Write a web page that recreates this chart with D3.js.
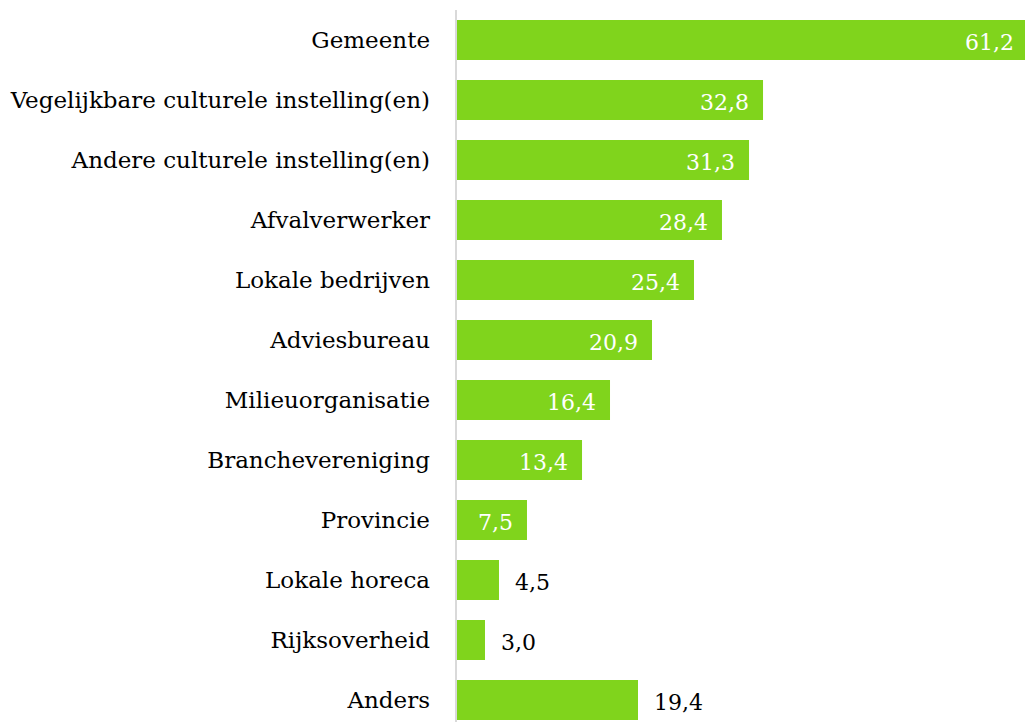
<!DOCTYPE html>
<html>
<head>
<meta charset="utf-8">
<script src="https://cdn.jsdelivr.net/npm/d3@7"></script>
<style>
  html, body { margin: 0; padding: 0; background: #fff; overflow: hidden; }
  svg { display: block; }
  text { font-family: "DejaVu Serif", "Liberation Serif", serif; }
</style>
</head>
<body>
<div id="chart"></div>
<script>
// categories top to bottom
const categories = [
    "Gemeente",
    "Vegelijkbare culturele instelling(en)",
    "Andere culturele instelling(en)",
    "Afvalverwerker",
    "Lokale bedrijven",
    "Adviesbureau",
    "Milieuorganisatie",
    "Branchevereniging",
    "Provincie",
    "Lokale horeca",
    "Rijksoverheid",
    "Anders"
];
const values = [61.2, 32.8, 31.3, 28.4, 25.4, 20.9, 16.4, 13.4, 7.5, 4.5, 3.0, 19.4];
// where the value label sits
const labelInside = [true, true, true, true, true, true, true, true, true, false, false, false];

const width = 1025, height = 722;
const barColor = "#80d41c";

const svg = d3.select("#chart").append("svg")
    .attr("width", width).attr("height", height);

const x = d3.scaleLinear().domain([0, 61.2]).range([457, 1028]);
const y = d3.scaleBand().domain(categories).range([10, 730]).paddingInner(1 / 3).paddingOuter(1 / 6);

// bars
svg.selectAll("rect.bar").data(categories).enter().append("rect")
    .attr("class", "bar")
    .attr("x", x(0))
    .attr("y", d => y(d))
    .attr("width", (d, i) => x(values[i]) - x(0))
    .attr("height", y.bandwidth())
    .attr("fill", barColor);

// axis line
svg.append("line")
    .attr("x1", 456).attr("x2", 456)
    .attr("y1", 10).attr("y2", height)
    .attr("stroke", "#d9d9d9").attr("stroke-width", 2);

// category labels
svg.selectAll("text.cat").data(categories).enter().append("text")
    .attr("class", "cat")
    .attr("x", 430)
    .attr("y", d => y(d) + y.bandwidth() / 2)
    .attr("dy", "0.35em")
    .attr("text-anchor", "end")
    .attr("font-size", 23)
    .attr("fill", "#000")
    .text(d => d);

// value labels
const fmt = v => v.toFixed(1).replace(".", ",");
svg.selectAll("text.val").data(categories).enter().append("text")
    .attr("class", "val")
    .attr("x", (d, i) => labelInside[i] ? x(values[i]) - 14 : x(values[i]) + 16)
    .attr("y", d => y(d) + y.bandwidth() / 2 + 2)
    .attr("dy", "0.35em")
    .attr("text-anchor", (d, i) => labelInside[i] ? "end" : "start")
    .attr("font-size", 22)
    .attr("fill", (d, i) => labelInside[i] ? "#fff" : "#000")
    .text((d, i) => fmt(values[i]));
</script>
</body>
</html>
